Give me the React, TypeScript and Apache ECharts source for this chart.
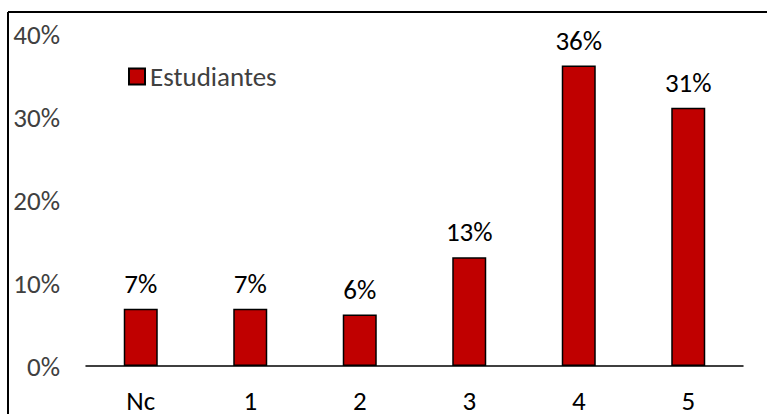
import React, { useEffect, useRef } from "react";
import * as echarts from "echarts";

const categories = ["Nc", "1", "2", "3", "4", "5"];
const seriesName = "Estudiantes";
const values = [6.9, 6.9, 6.2, 13.1, 36.2, 31.1];
const yTicks = [0, 10, 20, 30, 40];

const FONT = "Carlito, Lato, 'Noto Sans', sans-serif";
const TXT = "#404040";

export default function App() {
  const ref = useRef<HTMLDivElement>(null);
  useEffect(() => {
    if (!ref.current) return;
    const chart = echarts.init(ref.current, undefined, { renderer: "svg" });
    chart.setOption({
      animation: false,
      backgroundColor: "#ffffff",
      textStyle: { fontFamily: FONT },
      graphic: [
        { type: "line", shape: { x1: 8, y1: 12, x2: 767, y2: 12 }, style: { stroke: "#000", lineWidth: 2 } },
        { type: "line", shape: { x1: 8, y1: 12, x2: 8, y2: 414 }, style: { stroke: "#000", lineWidth: 2 } },
      ],
      legend: {
        left: 123,
        top: 58,
        icon: "rect",
        itemWidth: 16,
        itemHeight: 16,
        itemGap: 8,
        data: [seriesName],
        textStyle: { fontFamily: FONT, fontSize: 27, color: TXT },
      },
      grid: { left: 86, right: 24, top: 34, bottom: 47, containLabel: false },
      xAxis: {
        type: "category",
        data: categories,
        axisLine: { lineStyle: { color: "#000", width: 1.5 } },
        axisTick: { show: false },
        axisLabel: { fontFamily: FONT, fontSize: 27, color: "#000", margin: 21 },
      },
      yAxis: {
        type: "value",
        min: yTicks[0],
        max: yTicks[yTicks.length - 1],
        interval: 10,
        splitLine: { show: false },
        axisLine: { show: false },
        axisTick: { show: false },
        axisLabel: {
          fontFamily: FONT,
          fontSize: 27,
          color: TXT,
          margin: 26,
          formatter: (v: number) => `${v}%`,
        },
      },
      series: [
        {
          name: seriesName,
          type: "bar",
          data: values,
          barWidth: 34,
          itemStyle: { color: "#C00000", borderColor: "#000", borderWidth: 1.5 },
          label: {
            show: true,
            position: "top",
            distance: 12,
            fontFamily: FONT,
            fontSize: 27,
            color: "#000",
            formatter: (p: any) => `${Math.round(p.value)}%`,
          },
        },
      ],
    });
    return () => chart.dispose();
  }, []);
  return <div ref={ref} style={{ width: 767, height: 414, position: "fixed", left: 0, top: 0 }} />;
}
